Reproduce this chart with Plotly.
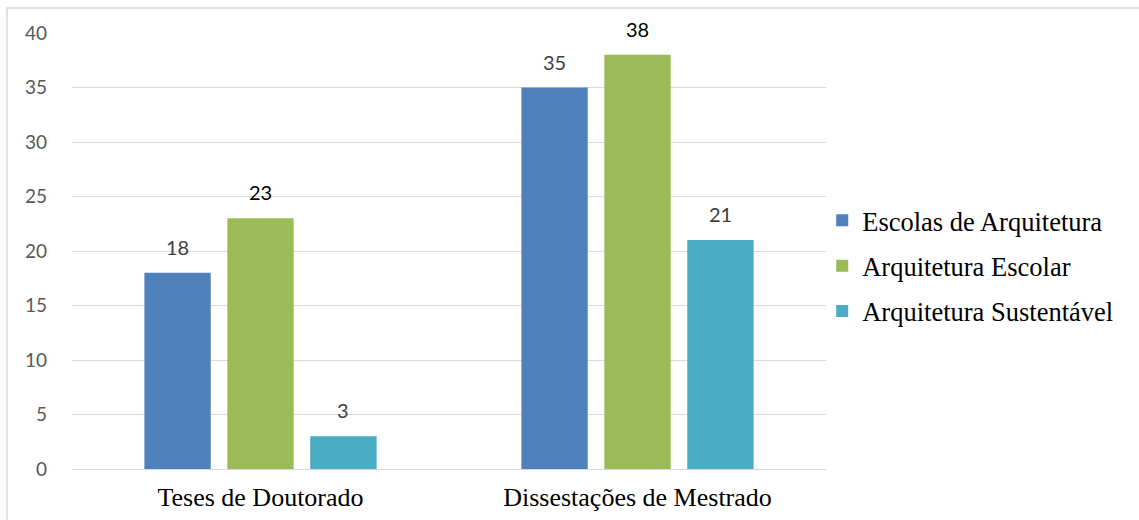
import plotly.graph_objects as go

categories = ["Teses de Doutorado", "Dissestações de Mestrado"]
series_names = ["Escolas de Arquitetura", "Arquitetura Escolar", "Arquitetura Sustentável"]
escolas = [18, 35]
arq_escolar = [23, 38]
arq_sust = [3, 21]
y_ticks = [0, 5, 10, 15, 20, 25, 30, 35, 40]

colors = ["#4F81BD", "#9BBB59", "#4BACC6"]
label_colors = ["#404040", "#000000", "#404040"]
SERIF = "Liberation Serif"
SANS = "Lato"
BARGAP = 0.34
n_series = 3

fig = go.Figure()
annotations = []
all_vals = [escolas, arq_escolar, arq_sust]
for i, (name, vals) in enumerate(zip(series_names, all_vals)):
    fig.add_trace(go.Bar(
        x=list(range(len(categories))), y=vals, name=name,
        marker=dict(color=colors[i], line=dict(width=0)),
        legendgroup=f"g{i}",
    ))
    slot = (1 - BARGAP) / n_series
    for j, v in enumerate(vals):
        annotations.append(dict(
            x=j + (i - (n_series - 1) / 2) * slot, y=v, xref="x", yref="y",
            text=str(v), showarrow=False, yanchor="bottom", yshift=12,
            font=dict(family=SANS, size=20, color=label_colors[i]),
        ))

fig.update_layout(
    width=1139, height=520,
    margin=dict(l=72, r=313, t=33, b=51, autoexpand=False),
    paper_bgcolor="white", plot_bgcolor="white",
    barmode="group", bargap=BARGAP, bargroupgap=0.2,
    showlegend=True,
    legend=dict(x=0.995, xanchor="left", y=0.4656, yanchor="middle",
                font=dict(family=SERIF, size=26.5, color="#000000"),
                tracegroupgap=8, traceorder="grouped", bgcolor="rgba(0,0,0,0)"),
    xaxis=dict(showgrid=False, showline=False, zeroline=False, automargin=False,
               tickmode="array", tickvals=list(range(len(categories))), ticktext=categories,
               range=[-0.5, len(categories) - 0.5],
               tickfont=dict(family=SERIF, size=26, color="#000000"),
               ticks="", ticklabelstandoff=10),
    yaxis=dict(range=[0, 40], tickvals=y_ticks, showgrid=True, gridcolor="#D9D9D9", gridwidth=1,
               zeroline=True, zerolinecolor="#D9D9D9", zerolinewidth=1, showline=False,
               automargin=False,
               tickfont=dict(family=SANS, size=19, color="#595959"),
               ticks="", ticklabelstandoff=24),
    annotations=annotations,
    shapes=[dict(type="rect", xref="paper", yref="paper", x0=-0.0862, x1=1.43, y0=-0.15, y1=1.0573,
                 line=dict(color="#D9D9D9", width=1.5), fillcolor="rgba(0,0,0,0)", layer="below")],
)

fig.write_html("out.html")
